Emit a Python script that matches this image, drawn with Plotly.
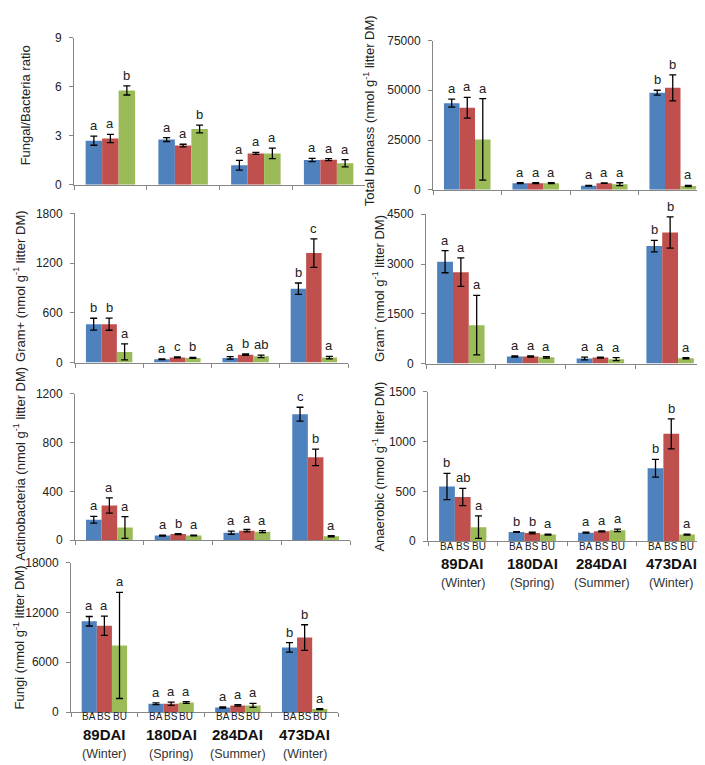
import plotly.graph_objects as go

W, H = 705, 765

categories = ["89DAI", "180DAI", "284DAI", "473DAI"]
seasons = ["(Winter)", "(Spring)", "(Summer)", "(Winter)"]
treatments = ["BA", "BS", "BU"]
colors = ["#4F81BD", "#C0504D", "#9BBB59"]

# Fungal/Bacteria ratio (rows: BA, BS, BU; columns: categories)
fb_mean = [[2.70, 2.77, 1.20, 1.52], [2.83, 2.40, 1.92, 1.54], [5.77, 3.41, 1.92, 1.32]]
fb_err = [[0.28, 0.12, 0.30, 0.10], [0.25, 0.08, 0.06, 0.06], [0.28, 0.24, 0.32, 0.22]]
fb_letters = [["a", "a", "a", "a"], ["a", "a", "a", "a"], ["b", "b", "a", "a"]]

# Total biomass
tb_mean = [[43500, 3300, 2000, 48800], [41200, 3300, 3300, 51200], [25300, 3300, 2800, 1900]]
tb_err = [[2000, 200, 200, 1200], [5200, 200, 100, 6500], [20500, 200, 700, 300]]
tb_letters = [["a", "a", "a", "b"], ["a", "a", "a", "b"], ["a", "a", "a", "a"]]

# Gram+
gp_mean = [[462, 40, 55, 890], [462, 62, 95, 1320], [128, 55, 75, 60]]
gp_err = [[72, 5, 15, 69], [73, 6, 8, 172], [96, 6, 15, 15]]
gp_letters = [["b", "a", "a", "b"], ["b", "c", "b", "c"], ["a", "b", "ab", "a"]]

# Gram-
gn_mean = [[3070, 210, 150, 3540], [2755, 210, 180, 3950], [1156, 185, 130, 160]]
gn_err = [[333, 20, 40, 172], [431, 20, 15, 470], [897, 20, 45, 20]]
gn_letters = [["a", "a", "a", "b"], ["a", "a", "a", "b"], ["a", "a", "a", "a"]]

# Actinobacteria
ac_mean = [[168, 38, 62, 1034], [285, 50, 78, 680], [104, 38, 70, 32]]
ac_err = [[27, 4, 13, 57], [63, 4, 10, 68], [89, 3, 8, 5]]
ac_letters = [["a", "a", "a", "c"], ["a", "b", "a", "b"], ["a", "a", "a", "a"]]

# Anaerobic
an_mean = [[550, 92, 86, 733], [444, 82, 99, 1079], [141, 66, 109, 66]]
an_err = [[132, 3, 5, 89], [87, 8, 4, 151], [113, 5, 12, 6]]
an_letters = [["b", "b", "a", "b"], ["ab", "b", "a", "b"], ["a", "a", "a", "a"]]

# Fungi
fu_mean = [[10950, 1000, 550, 7790], [10400, 1000, 800, 8980], [8030, 1150, 800, 350]]
fu_err = [[574, 100, 80, 574], [1167, 200, 80, 1543], [6400, 100, 250, 50]]
fu_letters = [["a", "a", "a", "b"], ["a", "a", "a", "b"], ["a", "a", "a", "a"]]

GS = "g<sup>-1</sup>"
panels = [
    dict(mean=fb_mean, err=fb_err, letters=fb_letters, title="Fungal/Bacteria ratio",
         box=(66, 357, 23, 173), dtick=3, ymax=9, tx=17, ty=92, bottom=False),
    dict(mean=tb_mean, err=tb_err, letters=tb_letters, title=f"Total biomass (nmol {GS} litter DM)",
         box=(425, 699, 26, 178), dtick=25000, ymax=75000, tx=361, ty=98, bottom=False),
    dict(mean=gp_mean, err=gp_err, letters=gp_letters, title=f"Gram+ (nmol {GS} litter DM)",
         box=(67, 340, 202, 354), dtick=600, ymax=1800, tx=11, ty=276, bottom=False),
    dict(mean=gn_mean, err=gn_err, letters=gn_letters, title=f"Gram<sup>-</sup> (nmol {GS} litter DM)",
         box=(418, 697, 203, 355), dtick=1500, ymax=4500, tx=370, ty=279, bottom=False),
    dict(mean=ac_mean, err=ac_err, letters=ac_letters, title=f"Actinobacteria (nmol {GS} litter DM)",
         box=(67, 342, 386, 535), dtick=400, ymax=1200, tx=11, ty=457, bottom=False),
    dict(mean=an_mean, err=an_err, letters=an_letters, title=f"Anaerobic (nmol {GS} litter DM)",
         box=(420, 698, 384, 536), dtick=500, ymax=1500, tx=370, ty=460, bottom=True),
    dict(mean=fu_mean, err=fu_err, letters=fu_letters, title=f"Fungi (nmol {GS} litter DM)",
         box=(63, 330, 558, 710), dtick=6000, ymax=18000, tx=11, ty=634, bottom=True),
]

FONT = "Liberation Sans, Arial, sans-serif"
AXC = "#868686"
BARGAP = 0.32

fig = go.Figure()
layout = dict(
    width=W, height=H, margin=dict(l=0, r=0, t=0, b=0),
    paper_bgcolor="white", plot_bgcolor="white", showlegend=False,
    barmode="group", bargap=BARGAP, bargroupgap=0,
    font=dict(family=FONT, color="#222", size=11),
)
annotations = []

for k, p in enumerate(panels):
    n = k + 1
    xa = "x" if n == 1 else f"x{n}"
    ya = "y" if n == 1 else f"y{n}"
    x0, x1, yt, yb = p["box"]
    for i, t in enumerate(treatments):
        fig.add_trace(go.Bar(
            x=categories, y=p["mean"][i], name=t, xaxis=xa, yaxis=ya,
            marker=dict(color=colors[i], line=dict(width=0)),
            error_y=dict(type="data", array=p["err"][i], color="black", thickness=1.3, width=3.5),
            hoverinfo="skip",
        ))
    layout["xaxis" if n == 1 else f"xaxis{n}"] = dict(
        domain=[x0 / W, x1 / W], anchor=ya, type="category",
        showline=True, linecolor=AXC, linewidth=1, ticks="outside", tickson="boundaries",
        ticklen=4, tickcolor=AXC, showticklabels=False, showgrid=False, zeroline=False,
        fixedrange=True,
    )
    layout["yaxis" if n == 1 else f"yaxis{n}"] = dict(
        domain=[1 - yb / H, 1 - yt / H], anchor=xa, range=[0, p["ymax"]], dtick=p["dtick"],
        tick0=0, showline=True, linecolor=AXC, linewidth=1, ticks="outside", ticklen=4,
        tickcolor=AXC, showgrid=False, zeroline=False, tickfont=dict(size=12, color="#222"),
        ticklabelstandoff=5, tickformat="d",
    )
    # y-axis title
    annotations.append(dict(
        text=p["title"], xref="paper", yref="paper", x=p["tx"] / W, y=1 - p["ty"] / H,
        textangle=-90, showarrow=False, xanchor="center", yanchor="middle",
        font=dict(size=13, color="#222"),
    ))
    catw = (x1 - x0) / len(categories)
    barw = catw * (1 - BARGAP) / len(treatments)
    for i in range(len(treatments)):
        for j, c in enumerate(categories):
            annotations.append(dict(
                text=p["letters"][i][j], xref=xa, yref=ya, x=c,
                y=p["mean"][i][j] + p["err"][i][j], xshift=(i - 1) * barw, yshift=1,
                yanchor="bottom", xanchor="center", showarrow=False,
                font=dict(size=13, color="#222"),
            ))
    if p["bottom"]:
        for j, c in enumerate(categories):
            for i, t in enumerate(treatments):
                annotations.append(dict(
                    text=t, xref=xa, yref="paper", x=c, y=1 - (yb + 5) / H,
                    xshift=(i - 1) * barw, yanchor="middle", xanchor="center", showarrow=False,
                    font=dict(size=10, color="#222"),
                ))
            annotations.append(dict(
                text=f"<b>{c}</b>", xref=xa, yref="paper", x=c, y=1 - (yb + 23) / H,
                yanchor="middle", xanchor="center", showarrow=False,
                font=dict(size=15, color="#111"),
            ))
            annotations.append(dict(
                text=seasons[j], xref=xa, yref="paper", x=c, y=1 - (yb + 43) / H,
                yanchor="middle", xanchor="center", showarrow=False,
                font=dict(size=12.5, color="#333"),
            ))

layout["annotations"] = annotations
fig.update_layout(**layout)
fig.write_html("out.html")
